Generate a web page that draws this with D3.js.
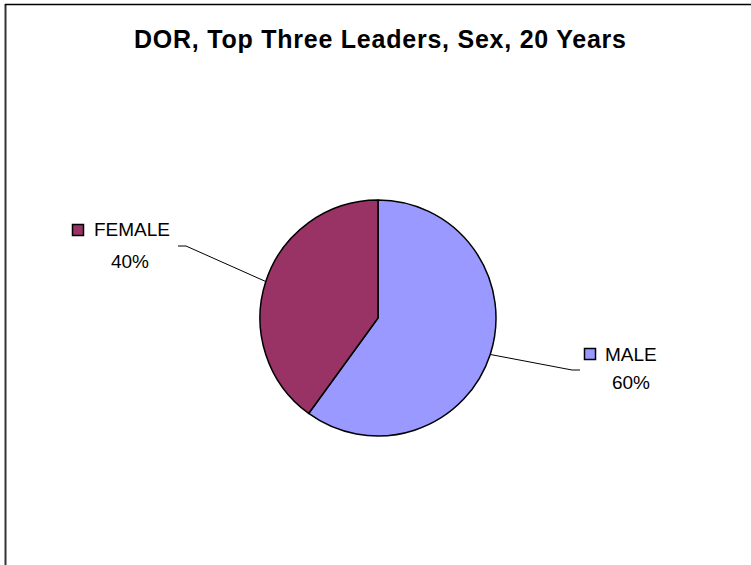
<!DOCTYPE html>
<html>
<head>
<meta charset="utf-8">
<script src="https://cdn.jsdelivr.net/npm/d3@7"></script>
<style>
  html, body { margin: 0; padding: 0; background: #fff; }
  svg { display: block; }
</style>
</head>
<body>
<svg id="chart" width="751" height="565"></svg>
<script>
// Share of the top three leaders by sex over 20 years
const categories = ["MALE", "FEMALE"];
const shares = [60, 40];
const sliceColors = ["#9999FF", "#993366"];
const chartTitle = "DOR, Top Three Leaders, Sex, 20 Years";

const W = 751, H = 565;
const svg = d3.select("#chart");
const font = "'Liberation Sans', Arial, sans-serif";

// chart frame (clipped at right and bottom)
svg.append("line").attr("x1", 5.5).attr("y1", 4).attr("x2", 5.5).attr("y2", H)
  .attr("stroke", "#333").attr("stroke-width", 2);
svg.append("line").attr("x1", 5).attr("y1", 4.5).attr("x2", W).attr("y2", 4.5)
  .attr("stroke", "#000").attr("stroke-width", 1.5);

// title
svg.append("text")
  .attr("x", 380).attr("y", 48)
  .attr("text-anchor", "middle")
  .attr("font-family", font).attr("font-weight", "bold").attr("font-size", 25)
  .attr("textLength", 492).attr("lengthAdjust", "spacing")
  .text(chartTitle);

const cx = 378, cy = 318, r = 118;
const data = categories.map((c, i) => ({ name: c, value: shares[i], color: sliceColors[i] }));

const pie = d3.pie().sort(null).value(d => d.value).startAngle(0).endAngle(2 * Math.PI);
const arcs = pie(data);
const arc = d3.arc().innerRadius(0).outerRadius(r);

const g = svg.append("g").attr("transform", `translate(${cx},${cy})`);
g.selectAll("path.slice").data(arcs).join("path")
  .attr("class", "slice")
  .attr("d", arc)
  .attr("fill", d => d.data.color)
  .attr("stroke", "#000").attr("stroke-width", 1.5).attr("stroke-linejoin", "round");

// label layout: leader elbow and text anchor per slice
const labelLayout = {
  MALE:   { elbow: [572, 370], end: [580, 370], box: [584, 348], name: [605, 361], pct: [631, 389] },
  FEMALE: { elbow: [186, 246], end: [178, 246], box: [72, 224],  name: [94, 236],  pct: [130, 268] }
};

arcs.forEach(a => {
  const L = labelLayout[a.data.name];
  const mid = (a.startAngle + a.endAngle) / 2;
  const px = cx + r * Math.sin(mid), py = cy - r * Math.cos(mid);
  svg.append("polyline")
    .attr("points", [[px, py], L.elbow, L.end].map(p => p.join(",")).join(" "))
    .attr("fill", "none").attr("stroke", "#000").attr("stroke-width", 1);
  svg.append("rect")
    .attr("x", L.box[0] + 0.5).attr("y", L.box[1] + 0.5).attr("width", 11).attr("height", 11)
    .attr("fill", a.data.color).attr("stroke", "#000").attr("stroke-width", 1.5);
  svg.append("text")
    .attr("x", L.name[0]).attr("y", L.name[1])
    .attr("font-family", font).attr("font-size", 19)
    .text(a.data.name);
  svg.append("text")
    .attr("x", L.pct[0]).attr("y", L.pct[1])
    .attr("text-anchor", "middle")
    .attr("font-family", font).attr("font-size", 19)
    .text(Math.round(a.data.value) + "%");
});
</script>
</body>
</html>
